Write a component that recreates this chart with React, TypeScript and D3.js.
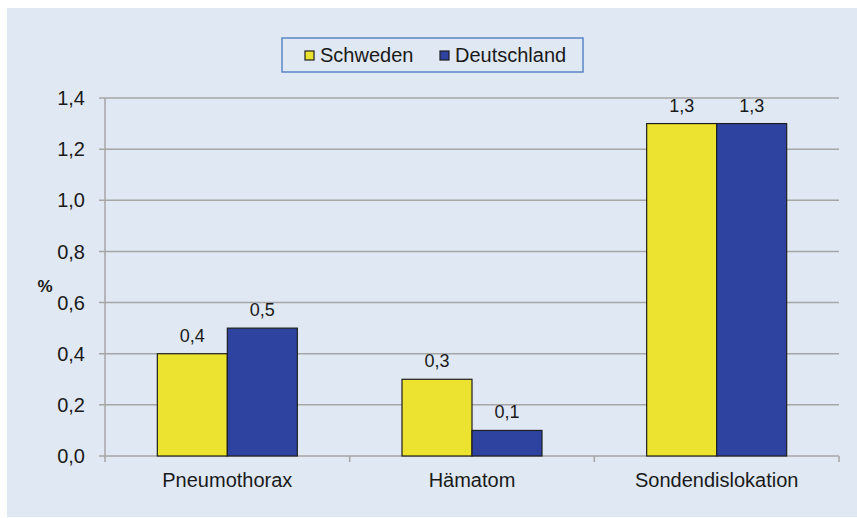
import React from "react";
import * as d3 from "d3";

const categories = ["Pneumothorax", "Hämatom", "Sondendislokation"];
const seriesNames = ["Schweden", "Deutschland"];
const schweden = [0.4, 0.3, 1.3];
const deutschland = [0.5, 0.1, 1.3];
const yTicks = [0, 0.2, 0.4, 0.6, 0.8, 1.0, 1.2, 1.4];
const colors = ["#ece330", "#2e43a0"];

const W = 857, H = 518;
const left = 105, right = 839, top = 98, bottom = 456;
const fmt = (v: number) => v.toFixed(1).replace(".", ",");
const font = "'Liberation Sans', Arial, sans-serif";

export default function App() {
  const x = d3.scaleBand<string>().domain(categories).range([left, right]).paddingInner(0).paddingOuter(0);
  const y = d3.scaleLinear().domain([0, 1.4]).range([bottom, top]);
  const barW = 70;
  const series = [schweden, deutschland];
  return (
    <svg width={W} height={H} style={{ position: "absolute", left: 0, top: 0, fontFamily: font }}>
      <rect x={7} y={8} width={W - 7} height={509} fill="#dfe8f3" />
      {yTicks.map((t) => (
        <g key={t}>
          <line x1={left - 6} x2={right} y1={y(t)} y2={y(t)} stroke="#a6a6a6" strokeWidth={1.5} />
          <text x={85} y={y(t)} dy="0.36em" textAnchor="end" fontSize={20} fill="#1a1a1a">{fmt(t)}</text>
        </g>
      ))}
      <line x1={left} x2={left} y1={top} y2={bottom + 6} stroke="#a6a6a6" strokeWidth={1.5} />
      {categories.map((c, i) => (
        <line key={c} x1={(x(c) as number) + x.bandwidth()} x2={(x(c) as number) + x.bandwidth()} y1={bottom} y2={bottom + 6} stroke="#a6a6a6" strokeWidth={1.5} />
      ))}
      {categories.map((c, i) => {
        const cx = (x(c) as number) + x.bandwidth() / 2;
        return (
          <g key={c}>
            {series.map((s, j) => {
              const bx = cx - barW + j * barW;
              return (
                <g key={j}>
                  <rect x={bx} y={y(s[i])} width={barW} height={bottom - y(s[i])} fill={colors[j]} stroke="#1e1e1e" strokeWidth={1.2} />
                  <text x={bx + barW / 2} y={y(s[i]) - 12} textAnchor="middle" fontSize={18} fill="#1a1a1a">{fmt(s[i])}</text>
                </g>
              );
            })}
            <text x={cx} y={487} textAnchor="middle" fontSize={20} fill="#1a1a1a">{c}</text>
          </g>
        );
      })}
      <text x={45} y={292} textAnchor="middle" fontSize={17} fontWeight="bold" fill="#1a1a1a">%</text>
      <rect x={282} y={38} width={301} height={34} fill="#dfe8f3" stroke="#5a86c5" strokeWidth={1.5} />
      {seriesNames.map((n, j) => {
        const mx = j === 0 ? 305 : 440;
        return (
          <g key={n}>
            <rect x={mx} y={51} width={9} height={9} fill={colors[j]} stroke="#1e1e1e" strokeWidth={1.2} />
            <text x={mx + 15} y={62} fontSize={20} fill="#1a1a1a">{n}</text>
          </g>
        );
      })}
    </svg>
  );
}
